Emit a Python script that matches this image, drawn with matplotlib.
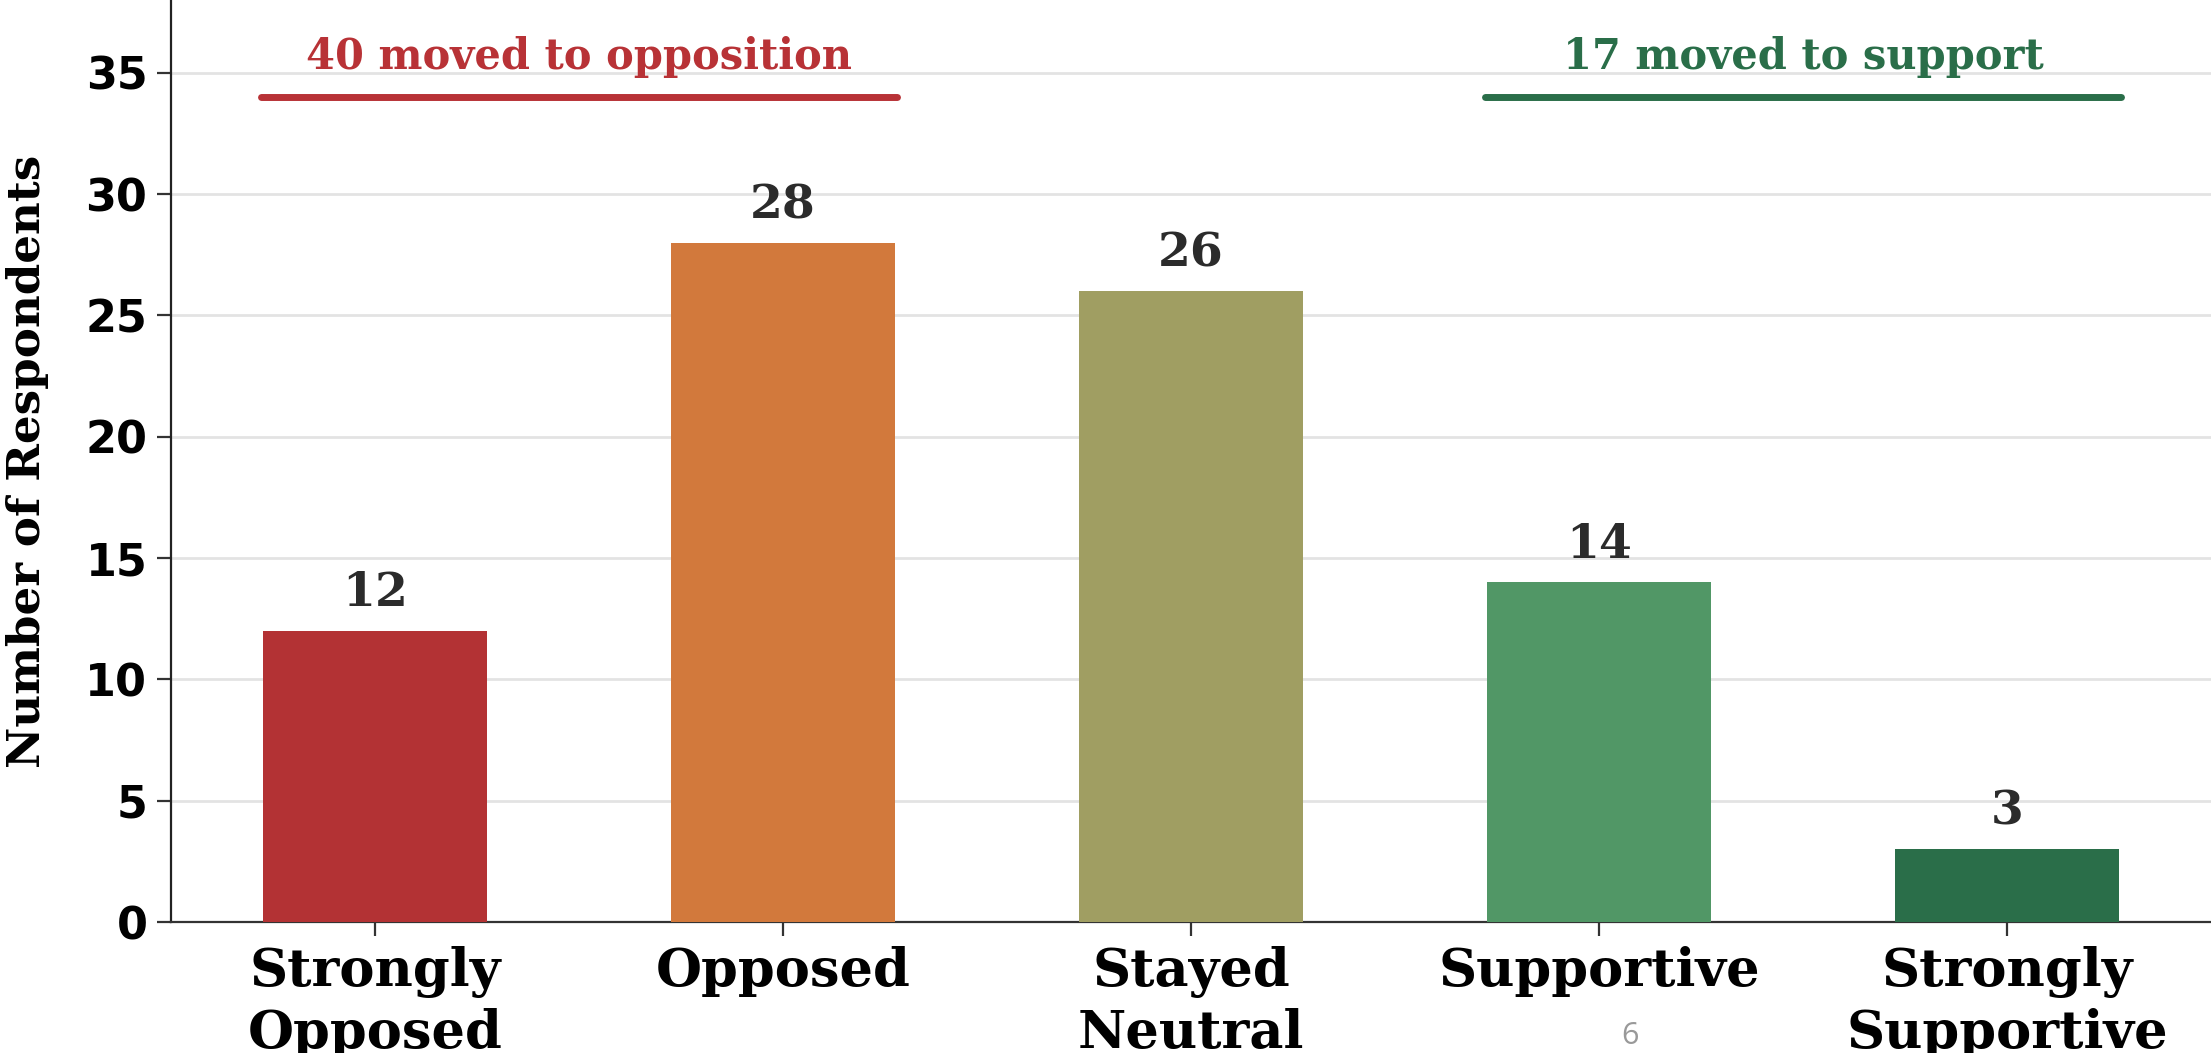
import matplotlib.pyplot as plt
import numpy as np

categories = ["Strongly\nOpposed", "Opposed", "Stayed\nNeutral", "Supportive", "Strongly\nSupportive"]
counts = [12, 28, 26, 14, 3]
colors = ["#B33234", "#D2793C", "#A09E62", "#519766", "#2A6E49"]
opp_label = "40 moved to opposition"
sup_label = "17 moved to support"

fig = plt.figure(figsize=(11.055, 5.265), dpi=200)
ax = fig.add_axes([171 / 2211, 131 / 1053, 1 - 171 / 2211, 922 / 1053])

x = np.arange(len(categories))
bars = ax.bar(x, counts, width=0.55, color=colors, zorder=3)

for b, v in zip(bars, counts):
    ax.text(b.get_x() + b.get_width() / 2, v + 0.6, str(v), ha="center", va="bottom",
            fontsize=17, fontweight="bold", family="DejaVu Serif", color="#2b2b2b")

# brackets for the two sides
red = "#B83236"
green = "#2A6E49"
ax.plot([-0.28, 1.28], [34, 34], color=red, lw=2.5, solid_capstyle="round", zorder=4)
ax.text(0.5, 35.15, opp_label, ha="center", va="baseline", fontsize=15, fontweight="bold",
        family="DejaVu Serif", color=red)
ax.plot([2.72, 4.28], [34, 34], color=green, lw=2.5, solid_capstyle="round", zorder=4)
ax.text(3.5, 35.15, sup_label, ha="center", va="baseline", fontsize=15, fontweight="bold",
        family="DejaVu Serif", color=green)

ax.set_xlim(-0.5, 4.5)
ax.set_ylim(0, 38)
ax.set_yticks(np.arange(0, 36, 5))
ax.set_xticks(x)
ax.set_xticklabels(categories, fontsize=19, fontweight="bold", family="DejaVu Serif", linespacing=1.25)
for lab in ax.get_yticklabels():
    lab.set_fontsize(16)
    lab.set_fontweight("bold")
ax.set_ylabel("Number of Respondents", fontsize=16.3, fontweight="bold", family="DejaVu Serif",
              labelpad=13)

ax.grid(axis="y", color="#e3e3e3", lw=1.0, zorder=0)
ax.spines["top"].set_visible(False)
ax.spines["right"].set_visible(False)
ax.spines["left"].set_color("#222222")
ax.spines["bottom"].set_color("#333333")
ax.tick_params(axis="both", length=5, color="#333333")

fig.text(1630 / 2211, 1 - 1036 / 1053, "6", ha="center", va="center", fontsize=11,
         family="Open Sans", color="#999999")

fig.savefig("out.png", dpi=200)
